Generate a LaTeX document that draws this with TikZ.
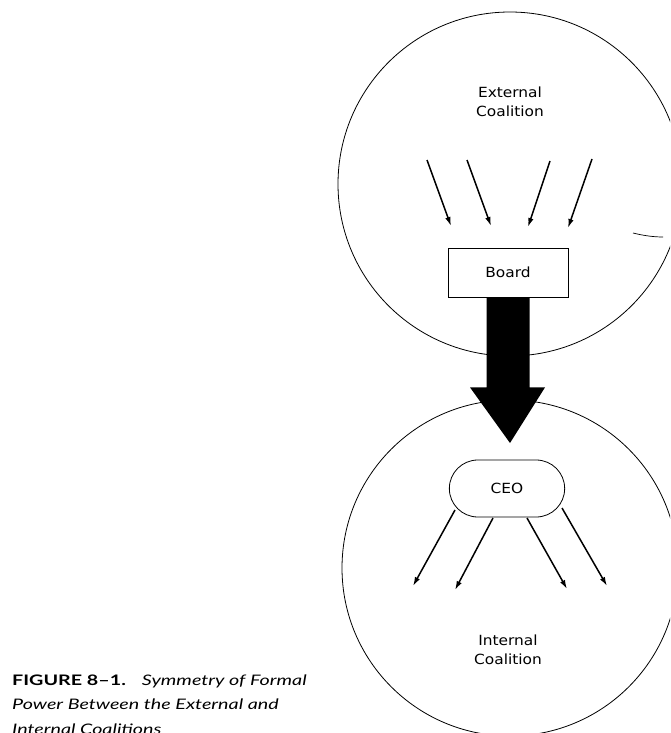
\documentclass[tikz,border=0pt]{standalone}
\usepackage{fontspec}
\setmainfont[FakeStretch=1.1]{DejaVu Sans}
\newfontfamily\capfont[FakeStretch=1.36]{Lato}
\usetikzlibrary{arrows.meta,calc,shapes.misc}
\begin{document}
\begin{tikzpicture}[x=1pt,y=-1pt,
  coal/.style={draw,line width=0.8pt},
  lbl/.style={font=\fontsize{14}{19}\selectfont,align=center,inner sep=0pt},
  thin/.style={line width=1.5pt,-{Latex[length=9pt,width=5.5pt]}},
  capline/.style={anchor=base west,inner sep=0pt,font=\capfont\fontsize{14.5}{18}\selectfont}]
\useasboundingbox (0,0) rectangle (670,733);
\clip (0,0) rectangle (670,733);
\fill[white] (0,0) rectangle (670,733);
% coalitions
\node[coal,circle,minimum size=344pt,inner sep=0pt] (ext) at (510,184) {};
\node[coal,circle,minimum size=336pt,inner sep=0pt] (int) at (510,568) {};
\draw[line width=0.7pt] (633,233) .. controls (645,236) and (655,237) .. (663,237);
% labels
\node[lbl] (extlbl) at (510,102) {External\\Coalition};
\node[lbl] (intlbl) at (508,650) {Internal\\Coalition};
% board and CEO
\node[draw,line width=0.8pt,minimum width=120pt,minimum height=49pt,font=\fontsize{14}{17}\selectfont] (board) at (508,272.5) {Board};
\node[draw,line width=0.8pt,rounded rectangle,minimum width=122pt,minimum height=57pt,font=\fontsize{14}{17}\selectfont] (ceo) at (507,488.5) {CEO};
% big arrow
\coordinate (tip) at (510,443);
\fill ($(board.south)+(-21.5,0)$) -- ($(board.south)+(21.5,0)$) -- ($(board.south)+(21.5,90)$) -- ($(board.south)+(37,90)$) -- (tip) -- ($(board.south)+(-38,90)$) -- ($(board.south)+(-21.5,90)$) -- cycle;
% incoming arrows
\coordinate (a1) at (427,160); \coordinate (b1) at (451,226);
\coordinate (a2) at (467,160); \coordinate (b2) at (491,226);
\coordinate (a3) at (550,161); \coordinate (b3) at (528,227);
\coordinate (a4) at (592,159); \coordinate (b4) at (568,228);
\draw[thin] (a1) -- (b1);
\draw[thin] (a2) -- (b2);
\draw[thin] (a3) -- (b3);
\draw[thin] (a4) -- (b4);
% outgoing arrows
\coordinate (s1) at ($(ceo.center)+(-52,21.5)$);
\coordinate (s2) at ($(ceo.center)+(-14,29.5)$);
\coordinate (s3) at ($(ceo.center)+(20,29.5)$);
\coordinate (s4) at ($(ceo.center)+(55,19.5)$);
\coordinate (c1) at (413,586); \coordinate (c2) at (455,590);
\coordinate (c3) at (567,589); \coordinate (c4) at (607,586);
\draw[thin] (s1) -- (c1);
\draw[thin] (s2) -- (c2);
\draw[thin] (s3) -- (c3);
\draw[thin] (s4) -- (c4);
% caption
\node[capline] (cap1) at (12,685) {\textbf{FIGURE 8–1.}\hspace{16pt}\textit{Symmetry of Formal}};
\node[capline] (cap2) at (12,709.5) {\textit{Power Between the External and}};
\node[capline] (cap3) at (12,734) {\textit{Internal Coalitions}};
\end{tikzpicture}
\end{document}
